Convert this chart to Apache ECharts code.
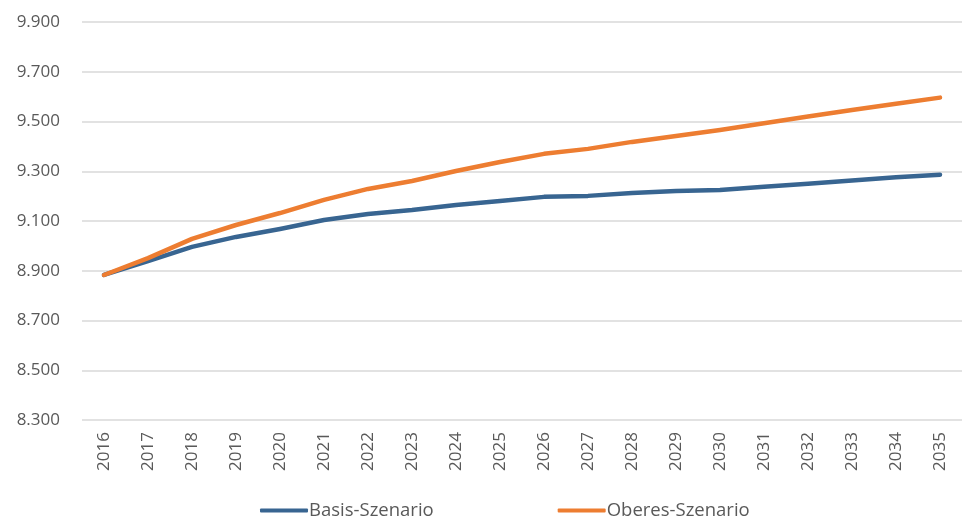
<!DOCTYPE html>
<html>
<head>
<meta charset="utf-8">
<script src="https://cdn.jsdelivr.net/npm/echarts@6/dist/echarts.min.js"></script>
<style>
  html, body { margin: 0; padding: 0; background: #fff; }
  #chart { width: 962px; height: 523px; }
</style>
</head>
<body>
<div id="chart"></div>
<script>
// data
const years = ['2016', '2017', '2018', '2019', '2020', '2021', '2022', '2023', '2024', '2025',
  '2026', '2027', '2028', '2029', '2030', '2031', '2032', '2033', '2034', '2035']
const basis = [8883, 8939, 8996, 9036, 9068, 9104, 9128, 9144, 9164, 9180,
  9197, 9201, 9213, 9221, 9225, 9238, 9250, 9263, 9276, 9286]
const oberes = [8883, 8951, 9028, 9084, 9132, 9185, 9229, 9261, 9301, 9337,
  9370, 9390, 9418, 9442, 9466, 9493, 9520, 9546, 9571, 9596]
const seriesNames = ['Basis-Szenario', 'Oberes-Szenario']

const fmt = v => String(v).replace(/\B(?=(\d{3})+(?!\d))/g, '.')

const chart = echarts.init(document.getElementById('chart'), null, { renderer: 'canvas' })

chart.setOption({
  animation: false,
  textStyle: { fontFamily: 'Open Sans' },
  color: ['#386591', '#ED7D31'],
  grid: { left: 82, right: -1, top: 22, bottom: 103, containLabel: false },
  legend: {
    bottom: -2,
    left: 255,
    itemGap: 124,
    itemWidth: 48,
    itemHeight: 4,
    icon: 'roundRect',
    textStyle: { fontSize: 18.5, color: '#595959', fontFamily: 'Open Sans', padding: [0, 0, 0, -4] },
    data: seriesNames
  },
  xAxis: {
    type: 'category',
    data: years,
    boundaryGap: true,
    axisLine: { show: false },
    axisTick: { show: false },
    axisLabel: { rotate: 90, fontSize: 17, color: '#595959', margin: 12 }
  },
  yAxis: {
    type: 'value',
    min: 8300,
    max: 9900,
    interval: 200,
    axisLine: { show: false },
    axisTick: { show: false },
    splitLine: { lineStyle: { color: '#d9d9d9', width: 1.5 } },
    axisLabel: { fontSize: 17, color: '#595959', margin: 22, formatter: fmt }
  },
  series: [
    {
      name: seriesNames[0], type: 'line', data: basis,
      showSymbol: false, lineStyle: { width: 4.5, cap: 'round', join: 'round' }
    },
    {
      name: seriesNames[1], type: 'line', data: oberes,
      showSymbol: false, lineStyle: { width: 4.5, cap: 'round', join: 'round' }
    }
  ]
})
</script>
</body>
</html>
